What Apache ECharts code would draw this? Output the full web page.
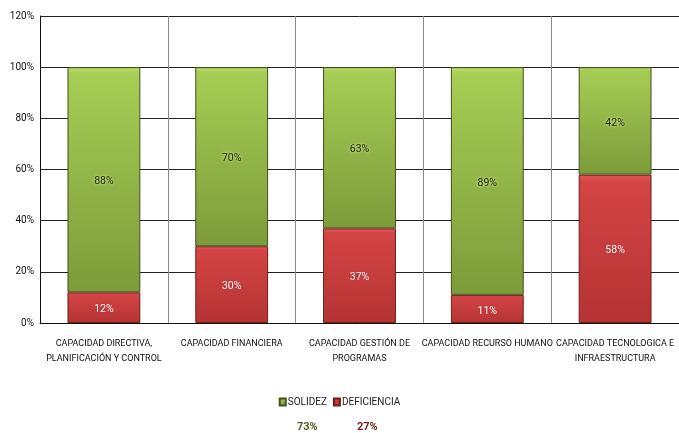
<!DOCTYPE html>
<html>
<head>
<meta charset="utf-8">
<script src="https://cdn.jsdelivr.net/npm/echarts@6/dist/echarts.min.js"></script>
<style>
  html, body { margin: 0; padding: 0; background: #fff; }
  #main { width: 679px; height: 433px; }
</style>
</head>
<body>
<div id="main"></div>
<script>
    var categories = [
        'CAPACIDAD DIRECTIVA,\nPLANIFICACIÓN Y CONTROL',
        'CAPACIDAD FINANCIERA',
        'CAPACIDAD GESTIÓN DE\nPROGRAMAS',
        'CAPACIDAD RECURSO HUMANO',
        'CAPACIDAD TECNOLOGICA E\nINFRAESTRUCTURA'
    ];
    var deficiencia = [12, 30, 37, 11, 58];
    var solidez = [88, 70, 63, 89, 42];
    var totalSolidez = '73%';
    var totalDeficiencia = '27%';

    var font = '"Liberation Sans Narrow", Roboto, sans-serif';

    var myChart = echarts.init(document.getElementById('main'));
    var option = {
        backgroundColor: '#ffffff',
        animation: false,
        textStyle: { fontFamily: font },
        // el area del grafico sigue un poco mas alla del borde derecho
        grid: { left: 40, width: 646, top: 16, bottom: 110, containLabel: false },
        legend: {
            data: ['SOLIDEZ', 'DEFICIENCIA'],
            top: 392,
            left: 'center',
            itemWidth: 6,
            itemHeight: 7,
            itemGap: 6,
            icon: 'rect',
            textStyle: { fontFamily: font, fontSize: 10, color: '#222', padding: [0, 0, 0, -3] }
        },
        xAxis: {
            type: 'category',
            data: categories,
            axisTick: { show: false },
            axisLine: { lineStyle: { color: '#111', width: 1 } },
            splitLine: { show: true, lineStyle: { color: '#8a8a8a', width: 1 } },
            axisLabel: {
                interval: 0,
                color: '#111',
                fontFamily: font,
                fontSize: 9,
                lineHeight: 15,
                margin: 13
            }
        },
        yAxis: {
            type: 'value',
            min: 0,
            max: 120,
            interval: 20,
            axisLine: { show: true, lineStyle: { color: '#111' } },
            axisTick: { show: false },
            splitLine: { lineStyle: { color: '#222', width: 1 } },
            axisLabel: {
                formatter: '{value}%',
                color: '#111',
                fontFamily: font,
                fontSize: 10,
                margin: 6
            }
        },
        series: [{
            name: 'DEFICIENCIA',
            type: 'bar',
            stack: 'total',
            data: deficiencia,
            barWidth: '57%',
            itemStyle: {
                color: new echarts.graphic.LinearGradient(0, 0, 0, 1, [
                    { offset: 0, color: '#e45656' },
                    { offset: 0.05, color: '#d44444' },
                    { offset: 1, color: '#b53333' }
                ]),
                borderColor: '#6b1f1d',
                borderWidth: 1
            },
            label: {
                show: true,
                position: 'inside',
                offset: [0, 2],
                formatter: '{c}%',
                color: '#ffffff',
                fontFamily: font,
                fontSize: 10.5,
                textShadowColor: 'rgba(120,20,20,0.6)',
                textShadowBlur: 2
            }
        }, {
            name: 'SOLIDEZ',
            type: 'bar',
            stack: 'total',
            data: solidez,
            barWidth: '57%',
            itemStyle: {
                color: new echarts.graphic.LinearGradient(0, 0, 0, 1, [
                    { offset: 0, color: '#bde06a' },
                    { offset: 0.03, color: '#a6cd55' },
                    { offset: 1, color: '#7c9b3a' }
                ]),
                borderColor: '#3f5220',
                borderWidth: 1
            },
            label: {
                show: true,
                position: 'inside',
                offset: [0, 2],
                formatter: '{c}%',
                color: '#1a2208',
                fontFamily: font,
                fontSize: 10.5,
                textShadowColor: 'rgba(240,255,200,0.9)',
                textShadowBlur: 3
            }
        }],
        color: ['#c23a3a', '#93bb48'],
        graphic: [{
            type: 'text',
            left: 297,
            top: 422,
            style: { text: totalSolidez, fill: '#4a5e22', font: 'bold 11px ' + font }
        }, {
            type: 'text',
            left: 357,
            top: 422,
            style: { text: totalDeficiencia, fill: '#7a1e1e', font: 'bold 11px ' + font }
        }]
    };
    myChart.setOption(option);
</script>
</body>
</html>
